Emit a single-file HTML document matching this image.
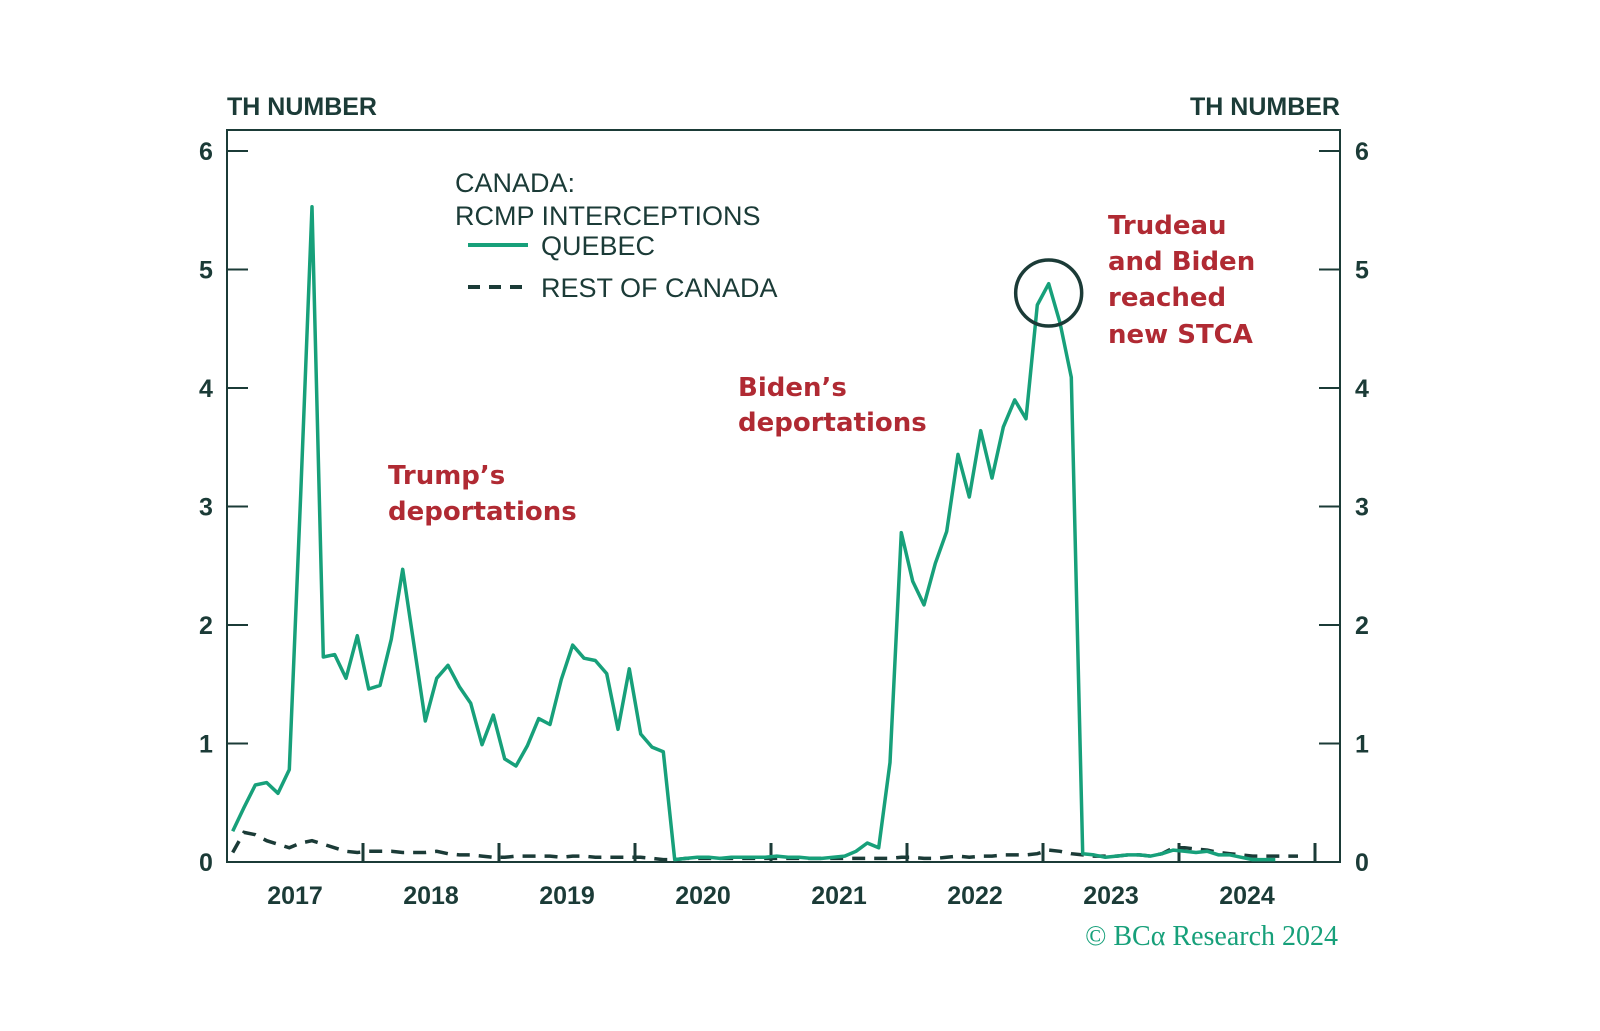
<!DOCTYPE html>
<html><head><meta charset="utf-8"><style>
html,body{margin:0;padding:0;background:#fff;}
svg{display:block;}
</style></head><body>
<svg id="chart" width="1600" height="1031" viewBox="0 0 1600 1031" xmlns="http://www.w3.org/2000/svg">
<g id="axes"></g>
<g id="series"></g>
<g id="labels" font-family="Liberation Sans, sans-serif"></g>
</svg>
<script>
const years = ["2017","2018","2019","2020","2021","2022","2023","2024"];
const yTicks = [0,1,2,3,4,5,6];
const quebec = [0.26,0.46,0.65,0.67,0.58,0.78,3.1,5.53,1.73,1.75,1.55,1.91,1.46,1.49,1.88,2.47,1.83,1.19,1.55,1.66,1.48,1.34,0.99,1.24,0.87,0.81,0.98,1.21,1.16,1.54,1.83,1.72,1.70,1.59,1.12,1.63,1.08,0.97,0.93,0.02,0.03,0.04,0.04,0.03,0.04,0.04,0.04,0.04,0.05,0.04,0.04,0.03,0.03,0.04,0.05,0.09,0.16,0.12,0.84,2.78,2.37,2.17,2.52,2.79,3.44,3.08,3.64,3.24,3.67,3.90,3.74,4.70,4.88,4.55,4.09,0.07,0.06,0.04,0.05,0.06,0.06,0.05,0.07,0.10,0.09,0.08,0.09,0.06,0.06,0.04,0.02,0.02,0.02];
const restOfCanada = [0.08,0.25,0.23,0.18,0.15,0.12,0.16,0.18,0.15,0.12,0.09,0.08,0.09,0.09,0.09,0.08,0.08,0.08,0.09,0.07,0.06,0.06,0.05,0.04,0.04,0.05,0.05,0.05,0.05,0.04,0.05,0.05,0.04,0.04,0.04,0.04,0.04,0.03,0.02,0.02,0.03,0.03,0.03,0.03,0.03,0.03,0.03,0.03,0.03,0.03,0.03,0.03,0.03,0.03,0.03,0.03,0.03,0.03,0.03,0.04,0.04,0.03,0.03,0.04,0.05,0.04,0.05,0.05,0.06,0.06,0.06,0.07,0.10,0.09,0.07,0.06,0.05,0.05,0.05,0.06,0.06,0.05,0.07,0.12,0.12,0.11,0.10,0.08,0.07,0.06,0.05,0.05,0.05,0.05,0.05];

const NS="http://www.w3.org/2000/svg";
const L=227,R=1340,T=130,B=862,MW=136/12;
const yScale=v=>B-v*118.5;
const xScale=i=>L+(i+0.5)*MW;
const DARK="#1b3b37",TEAL="#17a07a",RED="#b02a33";
function mk(tag,attrs,parent){const e=document.createElementNS(NS,tag);for(const k in attrs)e.setAttribute(k,attrs[k]);parent.appendChild(e);return e;}
const axes=document.getElementById('axes'),series=document.getElementById('series'),labels=document.getElementById('labels');

let frame=mk('rect',{x:L,y:T,width:R-L,height:B-T,fill:'none',stroke:DARK,'stroke-width':2},axes);


yTicks.forEach(v=>{
  const y=yScale(v);
  let t1=mk('line',{x1:L,x2:L+21,y1:y,y2:y,stroke:DARK,'stroke-width':2},axes);
  
  let t2=mk('line',{x1:R-21,x2:R,y1:y,y2:y,stroke:DARK,'stroke-width':2},axes);
  
  let a=mk('text',{x:206,y:y+9,'text-anchor':'middle','font-size':25,'font-weight':'bold',fill:DARK},labels);
  a.textContent=v;
  let b=mk('text',{x:1362,y:y+9,'text-anchor':'middle','font-size':25,'font-weight':'bold',fill:DARK},labels);
  b.textContent=v;
});
years.forEach((yr,k)=>{
  const xb=L+(k+1)*12*MW;
  if(xb<R-5){let t=mk('line',{x1:xb,x2:xb,y1:B-19,y2:B,stroke:DARK,'stroke-width':3},axes);
  }
  let tx=mk('text',{x:L+(k*12+6)*MW,y:904,'text-anchor':'middle','font-size':25,'font-weight':'bold',fill:DARK},labels);
  tx.textContent=yr;
});
function pts(arr){return arr.map((v,i)=>xScale(i).toFixed(1)+','+yScale(v).toFixed(1)).join(' ');}
let roc=mk('polyline',{points:pts(restOfCanada),fill:'none',stroke:DARK,'stroke-width':3.5,'stroke-dasharray':'13 9'},series);

let qc=mk('polyline',{points:pts(quebec),fill:'none',stroke:TEAL,'stroke-width':3.5,'stroke-linejoin':'round'},series);

let circ=mk('circle',{cx:xScale(72),cy:293,r:33,fill:'none',stroke:DARK,'stroke-width':3.5},series);


function txt(s,x,y,size,fill,name,opts){const e=mk('text',Object.assign({x:x,y:y,'font-size':size,fill:fill},opts||{}),labels);e.textContent=s;


return e;}
txt('TH NUMBER',227,115,25,DARK,'left-y-axis-title',{'font-weight':'bold'});
txt('TH NUMBER',1340,115,25,DARK,'right-y-axis-title',{'text-anchor':'end','font-weight':'bold'});
txt('CANADA:',455,192,27,DARK,'legend-title-line1');
txt('RCMP INTERCEPTIONS',455,225,27,DARK,'legend-title-line2');
let lq=mk('line',{x1:468,x2:528,y1:245,y2:245,stroke:TEAL,'stroke-width':4},labels);

txt('QUEBEC',541,255,27,DARK,'legend-quebec-label');
let lr=mk('line',{x1:468,x2:528,y1:287,y2:287,stroke:DARK,'stroke-width':4,'stroke-dasharray':'12 9'},labels);

txt('REST OF CANADA',541,297,27,DARK,'legend-rest-label');
const af={'font-weight':'bold','font-family':'DejaVu Sans, sans-serif'};
txt('Trump’s',388,484,26,RED,'annotation-trump-line1',af);
txt('deportations',388,520,26,RED,'annotation-trump-line2',af);
txt('Biden’s',738,396,26,RED,'annotation-biden-line1',af);
txt('deportations',738,431,26,RED,'annotation-biden-line2',af);
txt('Trudeau',1108,234,26,RED,'annotation-stca-line1',af);
txt('and Biden',1108,270,26,RED,'annotation-stca-line2',af);
txt('reached',1108,306,26,RED,'annotation-stca-line3',af);
txt('new STCA',1108,343,26,RED,'annotation-stca-line4',af);
txt('© BCα Research 2024',1338,945,28,TEAL,'source-credit',{'text-anchor':'end','font-family':'Liberation Serif, serif'});
</script>
</body></html>
